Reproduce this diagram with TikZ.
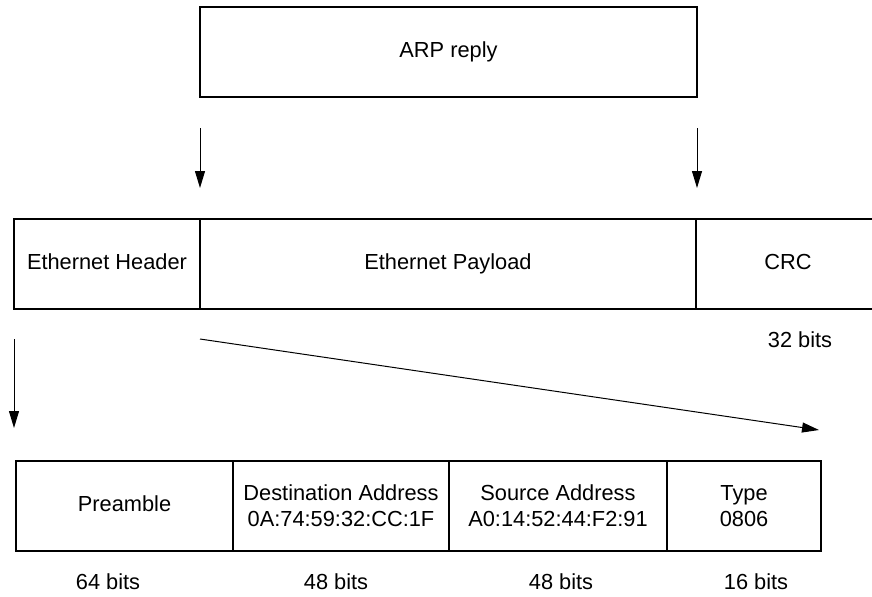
\documentclass[tikz,border=0pt]{standalone}
\usepackage{fontspec}
\setmainfont{Liberation Sans}
\usetikzlibrary{positioning}
\usetikzlibrary{arrows.meta}
\tikzset{%
  field/.style = {rectangle,draw,line width=0.75pt,inner sep=0pt,
        outer sep=0pt,minimum height=45pt,align=center},
  word/.style = {text height=0.72em,text depth=0.21em},
  flow/.style = {-{Triangle[length=8.5pt,width=5pt]},line width=0.5pt},
  bits/.style = {inner sep=0pt}
}

\begin{document}
\begin{tikzpicture}[x=0.5pt,y=-0.5pt,font=\fontsize{10.9}{13}\selectfont]
                \useasboundingbox (0,0) rectangle (872,596);

                \node[field, word, minimum width=248.5pt] (arp) at (448.5,52) {ARP reply};

                \node[field, word, minimum width=93pt] (ethhdr) at (107,264) {Ethernet Header};
                \node[field, word, minimum width=248pt] (ethpay) [right=0pt of ethhdr] {Ethernet Payload};
                \node[field, word, minimum width=92pt] (crc) [right=0pt of ethpay] {CRC};
                \node[bits] (crcbits) at (800,340) {32 bits};

                \node[field, word, minimum width=108.5pt] (pre) at (124.5,506) {Preamble};
                \node[field, minimum width=108pt] (dst) [right=0pt of pre] {Destination Address\\0A:74:59:32:CC:1F};
                \node[field, minimum width=109pt] (src) [right=0pt of dst] {Source Address\\A0:14:52:44:F2:91};
                \node[field, minimum width=77pt] (typ) [right=0pt of src] {Type\\0806};

                \node[bits] (prebits) at (108,582) {64 bits};
                \node[bits] (dstbits) at (336,582) {48 bits};
                \node[bits] (srcbits) at (561,582) {48 bits};
                \node[bits] (typbits) at (756,582) {16 bits};

                \coordinate (hdrtop) at (200,128);
                \coordinate (hdrend) at (200,188);
                \coordinate (crctop) at (697,128);
                \coordinate (crcend) at (697,188);
                \coordinate (subtop) at (14,339);
                \coordinate (subend) at (14,428);
                \coordinate (diagtop) at (200,339);
                \coordinate (diagend) at (819,430);

                \draw[flow] (hdrtop) -- (hdrend);
                \draw[flow] (crctop) -- (crcend);
                \draw[flow] (subtop) -- (subend);
                \draw[flow] (diagtop) -- (diagend);
            \end{tikzpicture}
\end{document}
